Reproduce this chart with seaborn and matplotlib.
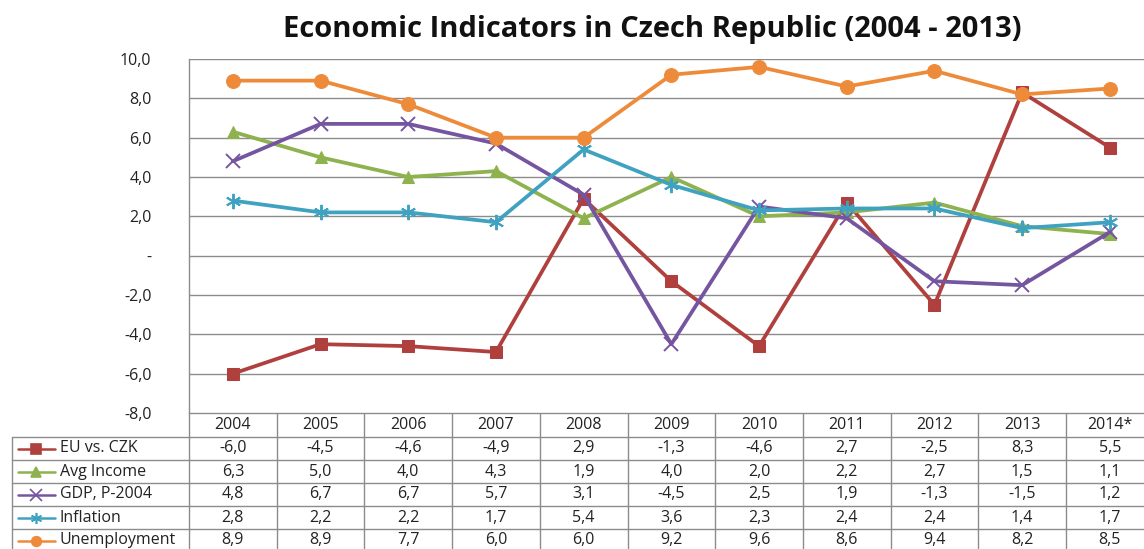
import matplotlib
matplotlib.use("Agg")
import matplotlib.pyplot as plt
from matplotlib.lines import Line2D
import seaborn as sns
import numpy as np
import pandas as pd

# --- data -------------------------------------------------------------
years = ["2004", "2005", "2006", "2007", "2008", "2009", "2010",
         "2011", "2012", "2013", "2014*"]
series_names = ["EU vs. CZK", "Avg Income", "GDP, P-2004", "Inflation", "Unemployment"]
eu_czk = [-6.0, -4.5, -4.6, -4.9, 2.9, -1.3, -4.6, 2.7, -2.5, 8.3, 5.5]
avg_income = [6.3, 5.0, 4.0, 4.3, 1.9, 4.0, 2.0, 2.2, 2.7, 1.5, 1.1]
gdp = [4.8, 6.7, 6.7, 5.7, 3.1, -4.5, 2.5, 1.9, -1.3, -1.5, 1.2]
inflation = [2.8, 2.2, 2.2, 1.7, 5.4, 3.6, 2.3, 2.4, 2.4, 1.4, 1.7]
unemployment = [8.9, 8.9, 7.7, 6.0, 6.0, 9.2, 9.6, 8.6, 9.4, 8.2, 8.5]
y_ticks = [-8, -6, -4, -2, 0, 2, 4, 6, 8, 10]
title = "Economic Indicators in Czech Republic (2004 - 2013)"

values = [eu_czk, avg_income, gdp, inflation, unemployment]
colors = ["#B0403D", "#8DB24E", "#7655A0", "#3FA2C0", "#EE8B3A"]
markers = ["s", "^", "x", (6, 2, 0), "o"]
msizes = [9, 9, 10, 11, 10]

df = pd.DataFrame({name: vals for name, vals in zip(series_names, values)})
df["pos"] = np.arange(len(years))

sns.set_theme(style="white")
plt.rcParams["font.family"] = ["Open Sans", "DejaVu Sans"]

W, H = 1144, 549
fig = plt.figure(figsize=(W / 100, H / 100), dpi=100)

# pixel geometry
ax_left, ax_top, ax_bottom = 189, 59, 413
col_w = 87.7
x_lo = -0.5
x_hi = x_lo + (W - ax_left) / col_w

ax = fig.add_axes([ax_left / W, (H - ax_bottom) / H,
                   (W - ax_left) / W, (ax_bottom - ax_top) / H])
ax.set_xlim(x_lo, x_hi)
ax.set_ylim(-8, 10)

for name, col, mk, ms in zip(series_names, colors, markers, msizes):
    filled = mk in ("s", "^", "o")
    kw = dict(markerfacecolor=col, markeredgecolor=col) if filled else dict(markeredgecolor=col, markeredgewidth=1.4)
    sns.lineplot(data=df, x="pos", y=name, ax=ax, color=col, linewidth=2.7,
                 marker=mk, markersize=ms, clip_on=False, zorder=3, **kw)

ax.set_yticks(y_ticks)
ax.set_yticklabels([("%.1f" % v).replace(".", ",") if v != 0 else "-" for v in y_ticks],
                   fontsize=11.5, color="#222222")
ax.tick_params(axis="y", length=0, pad=27)
ax.set_xticks([])
ax.set_xlabel("")
ax.set_ylabel("")
for v in y_ticks:
    ax.axhline(v, color="#8C8C8C", linewidth=1.0, zorder=1)
for side in ["top", "right", "bottom"]:
    ax.spines[side].set_visible(False)
ax.spines["left"].set_color("#8C8C8C")
ax.spines["left"].set_linewidth(1.0)

fig.text(652 / W, 1 - 30 / H, title, ha="center", va="center",
         fontsize=21, fontweight="bold", color="#111111")

# --- data table under the plot ---------------------------------------
tab_x_lo = x_lo - ax_left / col_w
tab = fig.add_axes([0, 0, 1, (H - ax_bottom) / H])
tab.set_xlim(tab_x_lo, x_hi)
tab.set_ylim(H, ax_bottom)
tab.axis("off")

line_kw = dict(color="#8C8C8C", linewidth=1.0)
legend_left = tab_x_lo + 12 / col_w
row_top = [437, 460, 483, 506, 529]
row_h = 23
# horizontal rules
tab.plot([x_lo, x_hi], [ax_bottom, ax_bottom], **line_kw)
for yline in row_top:
    tab.plot([legend_left, x_hi], [yline, yline], **line_kw)
# vertical rules
for k in range(len(years) + 1):
    xv = x_lo + k
    if xv < x_hi:
        tab.plot([xv, xv], [ax_bottom, H + 5], clip_on=True, **line_kw)
tab.plot([legend_left, legend_left], [437, H + 5], **line_kw)

txt_kw = dict(ha="center", va="center", fontsize=11.5, color="#222222")
for i, yr in enumerate(years):
    tab.text(i, 425, yr, **txt_kw)
for r, (name, vals, col, mk) in enumerate(zip(series_names, values, colors, markers)):
    yc = row_top[r] + row_h / 2
    for i, v in enumerate(vals):
        tab.text(i, yc, ("%.1f" % v).replace(".", ","), **txt_kw)
    # legend key
    lx0 = tab_x_lo + 18 / col_w
    lx1 = tab_x_lo + 55 / col_w
    filled = mk in ("s", "^", "o")
    tab.add_line(Line2D([lx0, lx1], [yc, yc], color=col, linewidth=1.8))
    tab.add_line(Line2D([(lx0 + lx1) / 2], [yc], color=col, marker=mk,
                        markersize=7 if filled else 8,
                        markerfacecolor=col if filled else "none",
                        markeredgecolor=col, markeredgewidth=1.2, linestyle="none"))
    tab.text(tab_x_lo + 60 / col_w, yc, name, ha="left", va="center",
             fontsize=11.5, color="#222222")

fig.savefig("out.png", dpi=100, facecolor="white")
